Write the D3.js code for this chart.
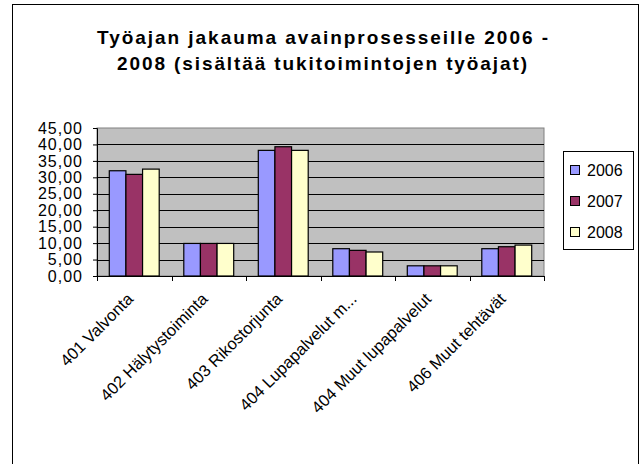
<!DOCTYPE html>
<meta charset="utf-8">
<script src="https://d3js.org/d3.v7.min.js"></script>
<style>
    body { margin: 0; background: #fff; }
    text { font-family: "Liberation Sans", Arial, sans-serif; }
</style>
<svg id="chart"></svg>
<script>
    // Data
    var categories = ["401 Valvonta", "402 Hälytystoiminta", "403 Rikostorjunta",
        "404 Lupapalvelut m...", "404 Muut lupapalvelut", "406 Muut tehtävät"];
    var years = ["2006", "2007", "2008"];
    var values2006 = [32.0, 9.9, 38.2, 8.3, 3.1, 8.3];
    var values2007 = [30.9, 9.9, 39.3, 7.8, 3.1, 8.9];
    var values2008 = [32.5, 9.9, 38.2, 7.3, 3.1, 9.4];
    var yTicks = [0, 5, 10, 15, 20, 25, 30, 35, 40, 45];
    var colors = ["#9999FF", "#993366", "#FFFFCC"];
    var titleLines = ["Työajan jakauma avainprosesseille 2006 -",
        "2008 (sisältää tukitoimintojen työajat)"];

    var series = [values2006, values2007, values2008];
    var width = 641, height = 464;
    var plot = { left: 97, right: 544, top: 128, bottom: 276 };

    var svg = d3.select("#chart")
        .attr("width", width)
        .attr("height", height);

    // outer frame
    svg.append("rect")
        .attr("x", 12.5).attr("y", 4.5)
        .attr("width", 626).attr("height", 470)
        .attr("fill", "#fff")
        .attr("stroke", "#000")
        .attr("stroke-width", 1);

    // title
    svg.append("g").selectAll("text")
        .data(titleLines)
        .enter().append("text")
        .attr("x", function(d, i) { return i == 0 ? 97 : 117; })
        .attr("y", function(d, i) { return 44 + i * 26; })
        .attr("textLength", function(d, i) { return i == 0 ? 451 : 410; })
        .attr("lengthAdjust", "spacing")
        .style("font-size", "19px")
        .style("font-weight", "bold")
        .text(function(d) { return d; });

    var x0 = d3.scaleBand()
        .domain(categories)
        .range([plot.left, plot.right])
        .paddingInner(0.33)
        .paddingOuter(0.165);

    var x1 = d3.scaleBand()
        .domain(years)
        .range([0, x0.bandwidth()]);

    var y = d3.scaleLinear()
        .domain([0, 45])
        .range([plot.bottom, plot.top]);

    // plot background
    svg.append("rect")
        .attr("x", plot.left).attr("y", plot.top)
        .attr("width", plot.right - plot.left)
        .attr("height", plot.bottom - plot.top)
        .attr("fill", "#C0C0C0")
        .attr("stroke", "#808080");

    // gridlines
    svg.append("g").selectAll("line")
        .data(yTicks.filter(function(d) { return d > 0 && d < 45; }))
        .enter().append("line")
        .attr("x1", plot.left).attr("x2", plot.right)
        .attr("y1", function(d) { return Math.round(y(d)) + 0.5; })
        .attr("y2", function(d) { return Math.round(y(d)) + 0.5; })
        .attr("stroke", "#000");

    // bars
    var group = svg.append("g").selectAll("g")
        .data(categories)
        .enter().append("g")
        .attr("transform", function(d) { return "translate(" + x0(d) + ",0)"; });

    group.selectAll("rect")
        .data(function(d, i) {
            return years.map(function(yr, j) { return { year: yr, value: series[j][i], k: j }; });
        })
        .enter().append("rect")
        .attr("x", function(d) { return x1(d.year); })
        .attr("y", function(d) { return y(d.value); })
        .attr("width", x1.bandwidth())
        .attr("height", function(d) { return plot.bottom - y(d.value); })
        .attr("fill", function(d) { return colors[d.k]; })
        .attr("stroke", "#000")
        .attr("stroke-width", 1.2);

    // y axis
    var fmt = d3.format(".2f");
    var yAxis = svg.append("g")
        .attr("transform", "translate(" + plot.left + ",0)")
        .call(d3.axisLeft(y).tickValues(yTicks).tickSize(4).tickPadding(10)
            .tickFormat(function(d) { return fmt(d).replace(".", ","); }));
    yAxis.select(".domain").attr("stroke", "#000");
    yAxis.selectAll("text")
        .style("font-size", "16px")
        .style("letter-spacing", "1px")
        .attr("fill", "#000");

    // x axis with ticks on category boundaries
    svg.append("line")
        .attr("x1", plot.left).attr("x2", plot.right)
        .attr("y1", plot.bottom + 0.5).attr("y2", plot.bottom + 0.5)
        .attr("stroke", "#000");

    var gapHalf = (x0.step() - x0.bandwidth()) / 2;
    var bounds = categories.map(function(c) { return x0(c) - gapHalf; });
    bounds.push(plot.right);
    svg.append("g").selectAll("line")
        .data(bounds)
        .enter().append("line")
        .attr("x1", function(d) { return Math.round(d) + 0.5; })
        .attr("x2", function(d) { return Math.round(d) + 0.5; })
        .attr("y1", plot.bottom).attr("y2", plot.bottom + 5)
        .attr("stroke", "#000");

    // rotated category labels
    svg.append("g").selectAll("text")
        .data(categories)
        .enter().append("text")
        .attr("transform", function(d) {
            return "translate(" + (x0(d) + x0.bandwidth() / 2 - 4) + "," + (plot.bottom + 20) + ") rotate(-45)";
        })
        .attr("text-anchor", "end")
        .attr("dy", "0.35em")
        .style("font-size", "16.5px")
        .text(function(d) { return d; });

    // legend
    var legend = svg.append("g");
    legend.append("rect")
        .attr("x", 563.5).attr("y", 151.5)
        .attr("width", 70).attr("height", 98)
        .attr("fill", "#fff")
        .attr("stroke", "#000");

    var item = legend.selectAll("g")
        .data(years)
        .enter().append("g")
        .attr("transform", function(d, i) { return "translate(570," + (170 + i * 31) + ")"; });
    item.append("rect")
        .attr("x", 0.5).attr("y", -4.5)
        .attr("width", 9).attr("height", 9)
        .attr("fill", function(d, i) { return colors[i]; })
        .attr("stroke", "#000");
    item.append("text")
        .attr("x", 17).attr("dy", "0.35em")
        .style("font-size", "16px")
        .text(function(d) { return d; });
</script>
